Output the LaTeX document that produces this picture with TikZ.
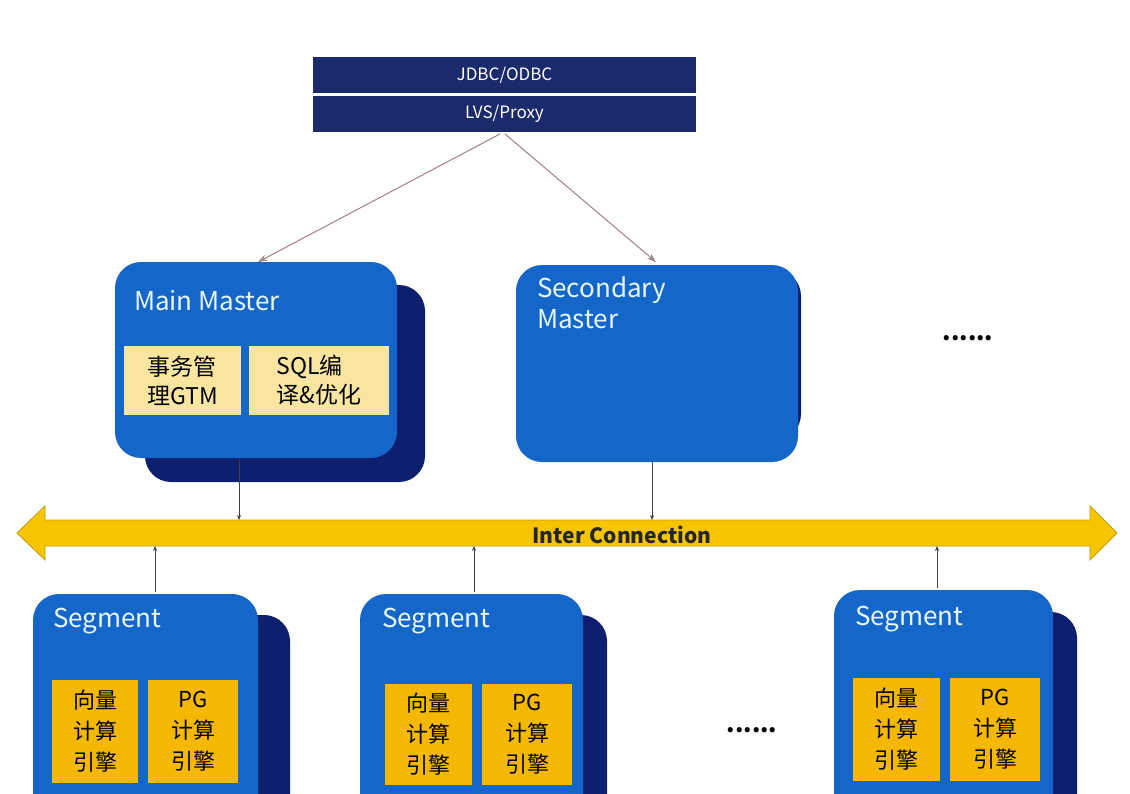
\documentclass[tikz,border=0pt]{standalone}
\usepackage{fontspec}
\setmainfont{Noto Sans CJK SC}
\usetikzlibrary{arrows.meta}
\definecolor{navy}{HTML}{0D1F6E}
\definecolor{topbox}{HTML}{1B2A6B}
\definecolor{mblue}{HTML}{1466C9}
\definecolor{lyel}{HTML}{F8E6A0}
\definecolor{oyel}{HTML}{F5B800}
\definecolor{bar}{HTML}{F7C400}
\definecolor{barb}{HTML}{C89A00}
\definecolor{lnk}{HTML}{A08080}
\definecolor{wtxt}{HTML}{E8F6FF}
\newcommand{\bx}[6]{\node[#6, minimum width={#4-#2}, minimum height={#5-#3}] (#1) at ({(#2+#4)/2},{(#3+#5)/2}) {};}
\tikzset{
  x=1pt,y=-1pt,
  every node/.style={inner sep=0, outer sep=0},
  top/.style={rectangle, fill=topbox},
  front/.style={rectangle, rounded corners=26pt, fill=mblue},
  shadow/.style={rectangle, rounded corners=26pt, fill=navy},
  ly/.style={rectangle, fill=lyel},
  oy/.style={rectangle, fill=oyel},
  ttl/.style={anchor=north west, text=wtxt, font=\fontsize{26}{31}\selectfont, align=left},
  cjk/.style={font=\fontsize{23}{29}\selectfont, align=left, text=black},
  cjkc/.style={font=\fontsize{22}{31}\selectfont, align=center, text=black},
  link/.style={draw=lnk, line width=1pt, -{Stealth[length=9pt,width=6pt]}},
  vl/.style={draw=black!75, line width=1pt, -{Stealth[length=5pt,width=4pt]}},
}
\begin{document}
\begin{tikzpicture}
\useasboundingbox (0,0) rectangle (1130,793);
\clip (0,0) rectangle (1130,793);
\fill[white] (0,0) rectangle (1130,793);
% top
\bx{jdbc}{313}{57}{696}{93}{top}
\bx{lvs}{313}{96}{696}{132}{top}
\node[text=white, font=\fontsize{17}{20}\selectfont] at (jdbc) {JDBC/ODBC};
\node[text=white, font=\fontsize{17}{20}\selectfont] at (lvs) {LVS/Proxy};
% main master
\bx{mms}{145}{285}{425}{482}{shadow}
\bx{mm}{115}{262}{397}{458}{front}
\node[ttl] (mmt) at (134,290) {Main Master};
\bx{gtm}{124}{346}{241}{415}{ly}
\bx{sql}{249}{346}{389}{415}{ly}
\node[cjk] at (gtm) {事务管\\理GTM};
\node[cjk] at (sql) {SQL编\\译\&优化};
% secondary
\bx{sms}{700}{270}{801}{440}{shadow}
\bx{sm}{516}{265}{798}{462}{front}
\node[ttl] (smt) at (537,277) {Secondary\\Master};
\node[font=\fontsize{24}{24}\selectfont\bfseries] (dots1) at (968,338) {......};
% arrows from proxy
\coordinate (p1) at (500,134);
\coordinate (p2) at (505,134);
\draw[link] (p1) -- (258,262);
\draw[link] (p2) -- (656,262);
% inter connection bar
\draw[fill=bar, draw=barb, line width=0.8pt] (17,533) -- (45,506) -- (45,520) -- (1090,520) -- (1090,506) -- (1117,533) -- (1090,560) -- (1090,546) -- (45,546) -- (45,560) -- cycle;
\node[font=\fontsize{21}{24}\selectfont\bfseries, text=black!85] (ic) at (622,535) {Inter Connection};
\coordinate (b1) at (239,520);
\coordinate (b2) at (652,520);
\coordinate (b3) at (155,546);
\coordinate (b4) at (474,546);
\coordinate (b5) at (937,546);
\coordinate (m1) at (239,459);
\coordinate (m2) at (652,462);
\draw[vl] (m1) -- (b1);
\draw[vl] (m2) -- (b2);
% segments
\bx{s1s}{60}{615}{290}{840}{shadow}
\bx{s1}{33}{594}{258}{830}{front}
\bx{s2s}{385}{615}{607}{840}{shadow}
\bx{s2}{360}{594}{583}{830}{front}
\bx{s3s}{860}{612}{1077}{840}{shadow}
\bx{s3}{834}{590}{1053}{830}{front}
\node[ttl] at (53,608) {Segment};
\node[ttl] at (382,608) {Segment};
\node[ttl] at (855,606) {Segment};
\coordinate (t1) at (155,592);
\coordinate (t2) at (474,592);
\coordinate (t3) at (937,588);
\draw[vl] (t1) -- (b3);
\draw[vl] (t2) -- (b4);
\draw[vl] (t3) -- (b5);
\bx{v1}{52}{680}{138}{783}{oy}
\bx{g1}{148}{680}{238}{783}{oy}
\bx{v2}{385}{684}{472}{785}{oy}
\bx{g2}{482}{684}{572}{785}{oy}
\bx{v3}{853}{678}{940}{781}{oy}
\bx{g3}{950}{678}{1040}{781}{oy}
\foreach \v/\g in {v1/g1,v2/g2,v3/g3}{
  \node[cjkc] at (\v) {向量\\计算\\引擎};
  \node[cjkc] at (\g) {PG\\计算\\引擎};
}
\node[font=\fontsize{24}{24}\selectfont\bfseries] (dots2) at (752,730) {......};
\end{tikzpicture}
\end{document}
